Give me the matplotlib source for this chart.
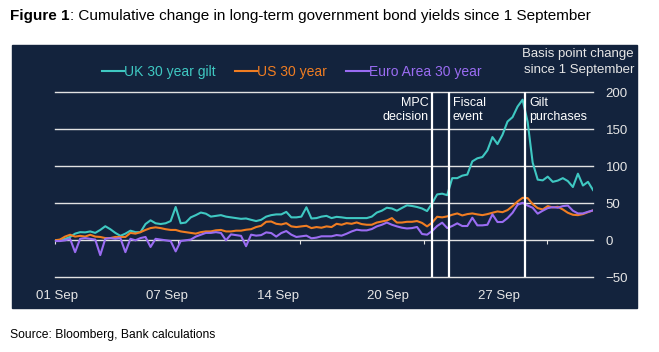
import matplotlib
matplotlib.use('Agg')
import matplotlib.pyplot as plt
from matplotlib.patches import Rectangle
import numpy as np

plt.rcParams['font.family'] = ['Liberation Sans', 'DejaVu Sans']

# cumulative change since 1 Sep, basis points (intraday points)
uk = [0, 0.5, 2, 4.5, 9, 11, 10.7, 12, 10, 14,
      19, 15, 10, 6, 9, 13, 11, 11, 22, 27,
      23, 22, 23, 26, 45, 23, 24, 31, 34, 37.5,
      36, 32, 33, 34, 32, 31, 30, 29, 29.5, 27.7,
      26, 27.7, 32, 34, 35, 35, 38.4, 31, 31, 32,
      44.6, 29.5, 30, 32, 33, 30, 31.7, 31, 30, 30,
      30, 30, 30, 32, 37.5, 40, 44, 43, 40, 43.7,
      47.3, 46.4, 45, 43, 39.5, 50, 62, 63, 61, 84,
      84, 87.4, 88.8, 106.7, 110.8, 112.5, 121.5, 139.5, 130, 142.6,
      160.5, 166.4, 180.7, 190, 160, 105, 82, 81, 86, 79,
      80.7, 84, 80, 72, 90, 74, 79, 68]
us = [0, 1, 5, 7.5, 5, 6, 5, 7.5, 5, 4.5,
      3, 3, 4.5, 4.5, 4.5, 10, 9, 11, 14, 16.5,
      17.5, 16.5, 15, 14, 14, 12, 11, 10, 9, 11,
      12, 12, 13.5, 14, 12, 12, 13, 13, 14.3, 15,
      17.9, 19.6, 25, 25.4, 22.3, 21.4, 23.2, 18.8, 17.9, 18.8,
      19.6, 16.5, 17.9, 17, 18.8, 17.9, 22.3, 21, 23.2, 22.3,
      24.1, 21.9, 21, 21, 24, 25.4, 26.8, 30, 24, 24,
      25, 25, 26, 23.5, 18.8, 23.8, 31.8, 31, 32.3, 34.5,
      36.3, 33.6, 35.4, 36.3, 35, 34, 35.4, 37.2, 39, 38,
      40.8, 46.2, 52.5, 57.4, 57, 48.9, 43.5, 41.7, 46.2, 44.4,
      45.3, 41.7, 37.2, 34.5, 34, 35.4, 38, 40.4]
ea = [-1, -1, 0, 2, -16, 2, 3, 2, 1, -20,
      2, 3, 2, 3, -16, 2, 0, 3, 4.5, -9,
      2, 1, 0, -1, -15, -1, 0, 1, 5, 7.5,
      10, 10, 11, 10, 0, 8, 7, 6, -8, 7.6,
      6.3, 7, 10.7, 9.8, 5, 9.8, 12.5, 7.6, 4.5, 5.4,
      6.3, 2.7, 3.6, 5.4, 5.4, 5.4, 7.1, 6.3, 8.9, 12,
      14.3, 13.4, 13.4, 15.2, 18.8, 21, 24, 21, 18.8, 17,
      16, 16.5, 18, 8.5, 7.6, 12.6, 19.3, 23.8, 16.6, 19.3,
      22.9, 19.3, 19.3, 30.5, 20.2, 20.2, 21, 35, 24.7, 24.7,
      30, 37.2, 48, 50.7, 47, 44, 36, 40, 43.5, 44.8,
      44, 46.2, 47, 40, 36.3, 36.3, 38.5, 40.4]
x = np.arange(len(uk))

date_labels = ['01 Sep', '07 Sep', '14 Sep', '20 Sep', '27 Sep']
date_pos = [0.4, 22.3, 44.3, 66.2, 88.3]
week_ticks = [0, 24.4, 48.7, 73.3, 97.8]
event_labels = ['MPC\ndecision', 'Fiscal\nevent', 'Gilt\npurchases']
event_pos = [74.95, 78.33, 93.54]

navy = '#13233d'
grid_c = '#e2e2e2'
txt_c = '#e6e6e6'
teal, orange, purple = '#3fc8c2', '#f07d22', '#9a6cf2'

fig = plt.figure(figsize=(6.59, 3.52), dpi=100)
fig.patches.append(Rectangle((12/659, 1-308/352), 625/659, 263/352,
                             transform=fig.transFigure, color=navy, zorder=-5))

ax = fig.add_axes([55/659, 1-277.3/352, 538/659, 185/352])
ax.set_zorder(1)
ax.set_facecolor(navy)
ax.plot(x, uk, color=teal, lw=1.5, label='UK 30 year gilt', zorder=3)
ax.plot(x, us, color=orange, lw=1.5, label='US 30 year', zorder=4)
ax.plot(x, ea, color=purple, lw=1.5, label='Euro Area 30 year', zorder=5)

for pos, lab in zip(event_pos, event_labels):
    ax.axvline(pos, color='white', lw=1.6, zorder=6)
    if lab.startswith('MPC'):
        ax.text(pos - 0.6, 0.975, lab, transform=ax.get_xaxis_transform(),
                ha='right', va='top', color='white', fontsize=9, linespacing=1.2)
    else:
        ax.text(pos + 0.8, 0.975, lab, transform=ax.get_xaxis_transform(),
                ha='left', va='top', color='white', fontsize=9, linespacing=1.2)

ax.set_xlim(0, len(uk) - 1)
ax.set_ylim(-50, 200)
ax.set_yticks(range(-50, 201, 50))
ax.yaxis.tick_right()
ax.tick_params(axis='y', length=0, pad=9, labelsize=9.5, labelcolor=txt_c)
ax.grid(axis='y', color=grid_c, lw=1.0)
for gl in ax.get_ygridlines():
    gl.set_clip_on(False)
for s in ax.spines.values():
    s.set_visible(False)

# small week ticks hang off the zero line
ax.spines['bottom'].set_position(('data', 0))
ax.set_xticks(week_ticks)
ax.tick_params(axis='x', direction='out', length=3, color=grid_c, labelbottom=False)
sec = ax.secondary_xaxis('bottom')
sec.set_xticks(date_pos, labels=date_labels)
sec.tick_params(length=0, pad=9, labelsize=9.5, labelcolor=txt_c)
sec.spines['bottom'].set_visible(False)

leg = fig.legend(loc='center left', bbox_to_anchor=(96/659, 1-72/352), ncol=3,
                 frameon=False, fontsize=10, handlelength=1.6, handletextpad=0,
                 columnspacing=1.4, borderaxespad=0)
for t, c in zip(leg.get_texts(), [teal, orange, purple]):
    t.set_color(c)

fig.text(634/659, 1-62/352, 'Basis point change\nsince 1 September', ha='right',
         va='center', color=txt_c, fontsize=9.5, linespacing=1.55)

t1 = fig.text(10/659, 1-16/352, 'Figure 1', fontsize=11, fontweight='bold',
              va='center', ha='left')
ax.annotate(': Cumulative change in long-term government bond yields since 1 September',
            xy=(1, 0), xycoords=t1, va='bottom', ha='left', fontsize=11,
            annotation_clip=False)
fig.text(10/659, 1-335/352, 'Source: Bloomberg, Bank calculations', fontsize=8.7,
         va='center', ha='left')

fig.savefig('out.png', dpi=100, facecolor='white')
